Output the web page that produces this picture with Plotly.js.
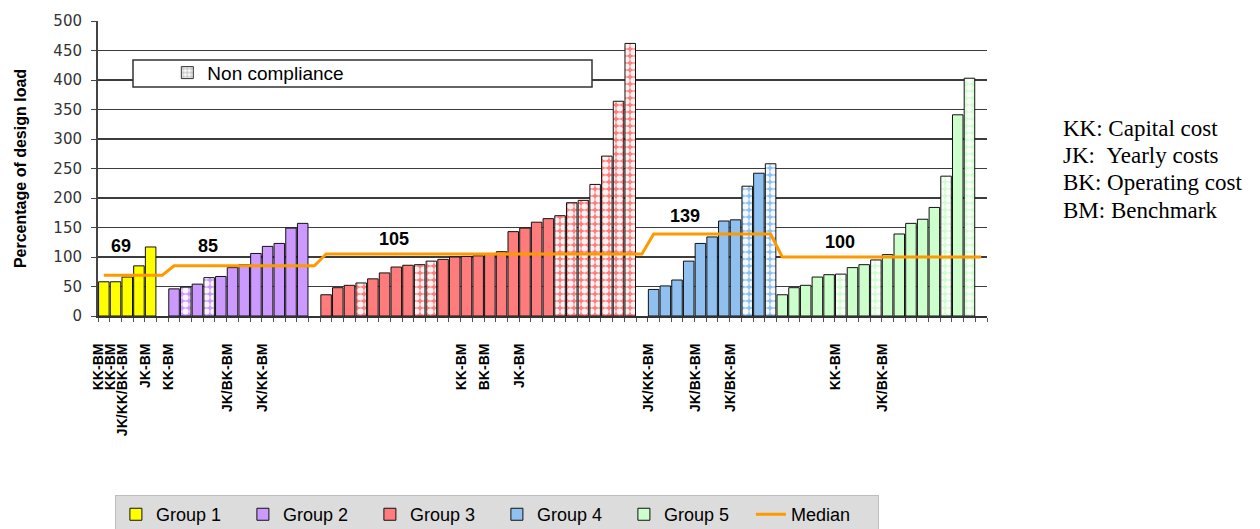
<!DOCTYPE html>
<html>
<head>
<meta charset="utf-8">
<script src="https://cdn.plot.ly/plotly-3.0.1.min.js"></script>
<style>
  html, body { margin: 0; padding: 0; background: #ffffff; }
  #chart { width: 1260px; height: 529px; }
</style>
</head>
<body>
<div id="chart"></div>
<script>
// ---------------- DATA ----------------
const groupNames = ['Group 1', 'Group 2', 'Group 3', 'Group 4', 'Group 5'];

const group1Values = [58, 58, 66, 85, 117];
const group2Values = [46, 49, 54, 65, 67, 82, 87, 106, 118, 123, 149, 157];
const group3Values = [36, 48, 52, 56, 63, 73, 83, 86, 87, 93, 96, 100, 101, 102, 105, 109,
                      143, 149, 159, 165, 170, 192, 196, 223, 271, 364, 462];
const group4Values = [45, 51, 61, 93, 123, 134, 161, 163, 220, 242, 258];
const group5Values = [36, 48, 52, 66, 70, 71, 82, 87, 95, 104, 139, 157, 164, 184, 237, 341, 403];

// 1 = non compliance, 0 = compliant
const group1NonCompliance = [0, 0, 0, 0, 0];
const group2NonCompliance = [0, 1, 0, 1, 0, 0, 0, 0, 0, 0, 0, 0];
const group3NonCompliance = [0, 0, 0, 1, 0, 0, 0, 0, 1, 1, 0, 0, 0, 0, 0, 0,
                             0, 0, 0, 0, 1, 1, 1, 1, 1, 1, 1];
const group4NonCompliance = [0, 0, 0, 0, 0, 0, 0, 0, 1, 0, 1];
const group5NonCompliance = [0, 0, 0, 0, 0, 1, 0, 0, 1, 0, 0, 0, 0, 0, 1, 0, 1];

const groupMedians = [69, 85, 105, 139, 100];

// category indices that carry a label, and the label texts
const labelCategories = [0, 1, 2, 4, 6, 11, 14, 31, 33, 36, 47, 51, 54, 63, 67];
const labelTexts = ['KK-BM', 'KK-BM', 'JK/KK/BK-BM', 'JK-BM', 'KK-BM', 'JK/BK-BM', 'JK/KK-BM',
                    'KK-BM', 'BK-BM', 'JK-BM', 'JK/KK-BM', 'JK/BK-BM', 'JK/BK-BM', 'KK-BM', 'JK/BK-BM'];

const yTickValues = [0, 50, 100, 150, 200, 250, 300, 350, 400, 450, 500];

const noteLines = ['KK: Capital cost', 'JK:\u00a0\u00a0Yearly costs', 'BK: Operating cost', 'BM: Benchmark'];

// ---------------- STYLE ----------------
const groupColors = ['#ffff00', '#cc99ff', '#ff7c7c', '#8fc0f0', '#ccffcc'];
const gapBefore = [false, true, true, true, false];

const allValues = [group1Values, group2Values, group3Values, group4Values, group5Values];
const allNC = [group1NonCompliance, group2NonCompliance, group3NonCompliance, group4NonCompliance, group5NonCompliance];

// build category positions
let pos = 0;
const groupX = [];
const medianLine = [];
allValues.forEach((vals, g) => {
  if (gapBefore[g]) { medianLine.push(groupMedians[g - 1]); pos++; }
  groupX.push(vals.map((_, i) => pos + i));
  vals.forEach(() => medianLine.push(groupMedians[g]));
  pos += vals.length;
});
medianLine.push(groupMedians[groupMedians.length - 1]); pos++; // trailing empty category
const nCats = pos;
const medianX = medianLine.map((_, i) => i);

const traces = [];
allValues.forEach((vals, g) => {
  traces.push({
    type: 'bar',
    name: groupNames[g],
    x: groupX[g],
    y: vals,
    width: 0.9,
    marker: {
      color: groupColors[g],
      line: { color: '#111111', width: 1 },
      pattern: {
        shape: allNC[g].map(v => v ? '.' : ''),
        fillmode: 'overlay',
        fgcolor: '#ffffff',
        fgopacity: 0.9,
        size: 7,
        solidity: 0.6
      }
    },
    hoverinfo: 'x+y',
    legend: 'legend'
  });
});

traces.push({
  type: 'scatter',
  mode: 'lines',
  name: 'Median',
  x: medianX,
  y: medianLine,
  line: { color: '#ff9900', width: 3 },
  hoverinfo: 'skip',
  legend: 'legend'
});

traces.push({
  type: 'bar',
  name: 'Non compliance',
  x: [null],
  y: [null],
  marker: {
    color: '#c8c8c8',
    line: { color: '#333333', width: 1 },
    pattern: { shape: '.', fillmode: 'overlay', fgcolor: '#ffffff', fgopacity: 1, size: 5, solidity: 0.5 }
  },
  legend: 'legend2',
  hoverinfo: 'skip'
});

// median value labels
const medianLabelPos = [
  { x: 1.5, y: 119 }, { x: 8.9, y: 119 }, { x: 24.8, y: 131 }, { x: 49.7, y: 169 }, { x: 62.9, y: 125 }
];
const annotations = groupMedians.map((m, i) => ({
  x: medianLabelPos[i].x, y: medianLabelPos[i].y, xref: 'x', yref: 'y',
  text: String(m), showarrow: false,
  font: { family: 'Arial, Liberation Sans, sans-serif', size: 18, color: '#000', weight: 'bold' }
}));

const noteY = [0.637, 0.544, 0.451, 0.356];
noteLines.forEach((t, i) => {
  annotations.push({
    x: 1.0830, y: noteY[i], xref: 'paper', yref: 'paper', xanchor: 'left', yanchor: 'middle',
    text: t, showarrow: false,
    font: { family: 'Liberation Serif, Times New Roman, serif', size: 23, color: '#000' }
  });
});

const layout = {
  width: 1260,
  height: 529,
  margin: { l: 98, r: 273, t: 21, b: 213, pad: 0, autoexpand: false },
  paper_bgcolor: '#ffffff',
  plot_bgcolor: '#ffffff',
  font: { family: 'Arial, Liberation Sans, sans-serif', color: '#000' },
  barmode: 'overlay',
  showlegend: true,
  xaxis: {
    range: [-0.5, nCats - 0.5],
    tickmode: 'array',
    tickvals: labelCategories.map(c => c - 0.45),
    ticktext: labelTexts,
    tickangle: -90,
    ticks: '',
    ticklabelstandoff: 20,
    tickfont: { family: 'Arial, Liberation Sans, sans-serif', size: 14, color: '#000', weight: 'bold' },
    minor: { tickmode: 'linear', tick0: -0.5, dtick: 1, ticks: 'outside', ticklen: 4, tickcolor: '#555', tickwidth: 1, showgrid: false },
    showgrid: false,
    zeroline: false,
    showline: true,
    linecolor: '#333',
    linewidth: 2,
    fixedrange: true
  },
  yaxis: {
    range: [0, 500],
    tickmode: 'array',
    tickvals: yTickValues,
    showgrid: true,
    gridcolor: '#3c3c3c',
    gridwidth: 1.5,
    zeroline: false,
    showline: true,
    linecolor: '#444',
    linewidth: 2,
    ticks: 'outside',
    ticklen: 5,
    tickcolor: '#444',
    ticklabelstandoff: 6,
    tickfont: { family: 'DejaVu Sans, Arial, sans-serif', size: 15, color: '#333' },
    title: {
      text: 'Percentage of design load',
      font: { family: 'Arial, Liberation Sans, sans-serif', size: 16, color: '#000', weight: 'bold' },
      standoff: 23
    },
    fixedrange: true
  },
  yaxis2: {
    overlaying: 'y',
    side: 'right',
    anchor: 'x',
    range: [0, 7.284],
    tickmode: 'linear',
    tick0: 0,
    dtick: 1,
    showgrid: false,
    zeroline: false,
    showline: true,
    linecolor: '#444',
    linewidth: 2,
    ticks: 'inside',
    ticklen: 7,
    tickcolor: '#444',
    showticklabels: false,
    fixedrange: true
  },
  legend: {
    orientation: 'h',
    x: 0.019, y: -0.607, xanchor: 'left', yanchor: 'top',
    bgcolor: '#dcdcdc',
    bordercolor: '#bdbdbd',
    borderwidth: 1,
    entrywidth: 82,
    entrywidthmode: 'pixels',
    font: { family: 'Arial, Liberation Sans, sans-serif', size: 18, color: '#000' },
    traceorder: 'normal'
  },
  legend2: {
    orientation: 'h',
    x: 0.078, y: 0.889, xanchor: 'left', yanchor: 'top',
    bgcolor: 'rgba(0,0,0,0)',
    borderwidth: 0,
    font: { family: 'Arial, Liberation Sans, sans-serif', size: 19, color: '#000' }
  },
  shapes: [
    {
      type: 'rect', xref: 'paper', yref: 'paper', layer: 'above',
      x0: (133 - 98) / 889, x1: (592 - 98) / 889,
      y0: (316 - 87) / 295, y1: (316 - 60) / 295,
      fillcolor: '#ffffff', line: { color: '#333', width: 1.5 }
    }
  ],
  annotations: annotations
};

Plotly.newPlot('chart', traces, layout, { displayModeBar: false, staticPlot: true });
</script>
</body>
</html>
